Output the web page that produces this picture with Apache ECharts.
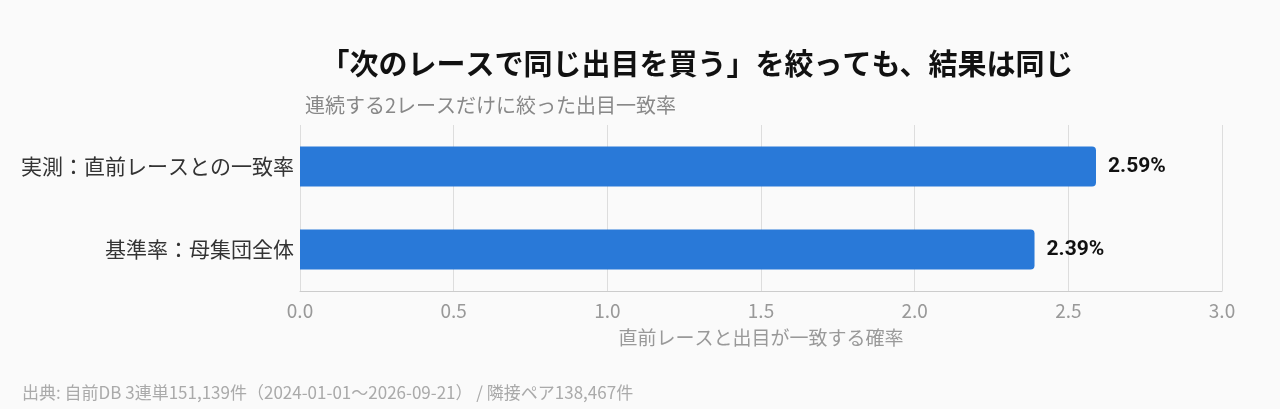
<!DOCTYPE html>
<html><head><meta charset="utf-8">
<script src="https://cdn.jsdelivr.net/npm/echarts@6/dist/echarts.min.js"></script>
<style>html,body{margin:0;background:#fafafa}#c{width:1280px;height:409px}</style>
</head><body><div id="c"></div>
<script>
const categories = ['基準率：母集団全体', '実測：直前レースとの一致率'];
const values = [2.39, 2.59];
const xTicks = [0, 0.5, 1.0, 1.5, 2.0, 2.5, 3.0];
const F = '"Noto Sans CJK JP", "Noto Sans", sans-serif';
const chart = echarts.init(document.getElementById('c'));
chart.setOption({
  backgroundColor: '#fafafa',
  textStyle: {fontFamily: F},
  title: [
    {text: '「次のレースで同じ出目を買う」を絞っても、結果は同じ', left: 692, top: 44, textAlign: 'center',
     textStyle: {fontSize: 29, fontWeight: 'bold', color: '#111', fontFamily: F}},
    {text: '連続する2レースだけに絞った出目一致率', left: 300, top: 90,
     textStyle: {fontSize: 20, fontWeight: 'normal', color: '#888', fontFamily: F}},
    {text: '出典: 自前DB 3連単151,139件（2024-01-01〜2026-09-21） / 隣接ペア138,467件', left: 17, top: 379,
     textStyle: {fontSize: 17, fontWeight: 'normal', color: '#aaa', fontFamily: F}}
  ],
  grid: {left: 300, right: 58, top: 125, bottom: 118},
  xAxis: {type: 'value', min: 0, max: 3, interval: 0.5,
    name: '直前レースと出目が一致する確率', nameLocation: 'middle', nameGap: 37,
    nameTextStyle: {fontSize: 19, color: '#999', fontFamily: F},
    axisLabel: {fontSize: 19, color: '#999', margin: 10, formatter: v => v.toFixed(1)},
    axisLine: {show: true, lineStyle: {color: '#ccc'}}, axisTick: {show: false},
    splitLine: {lineStyle: {color: '#ddd'}}},
  yAxis: {type: 'category', data: categories,
    axisLabel: {fontSize: 21, color: '#333', margin: 6},
    axisLine: {show: false}, axisTick: {show: false}},
  series: [{type: 'bar', data: values, barWidth: 40,
    itemStyle: {color: '#2979d8', borderRadius: [0, 4, 4, 0]},
    label: {show: true, position: 'right', distance: 12, formatter: p => p.value.toFixed(2) + '%',
      fontSize: 21, fontWeight: 'bold', color: '#111', fontFamily: 'Roboto, sans-serif'}}]
});
</script></body></html>
